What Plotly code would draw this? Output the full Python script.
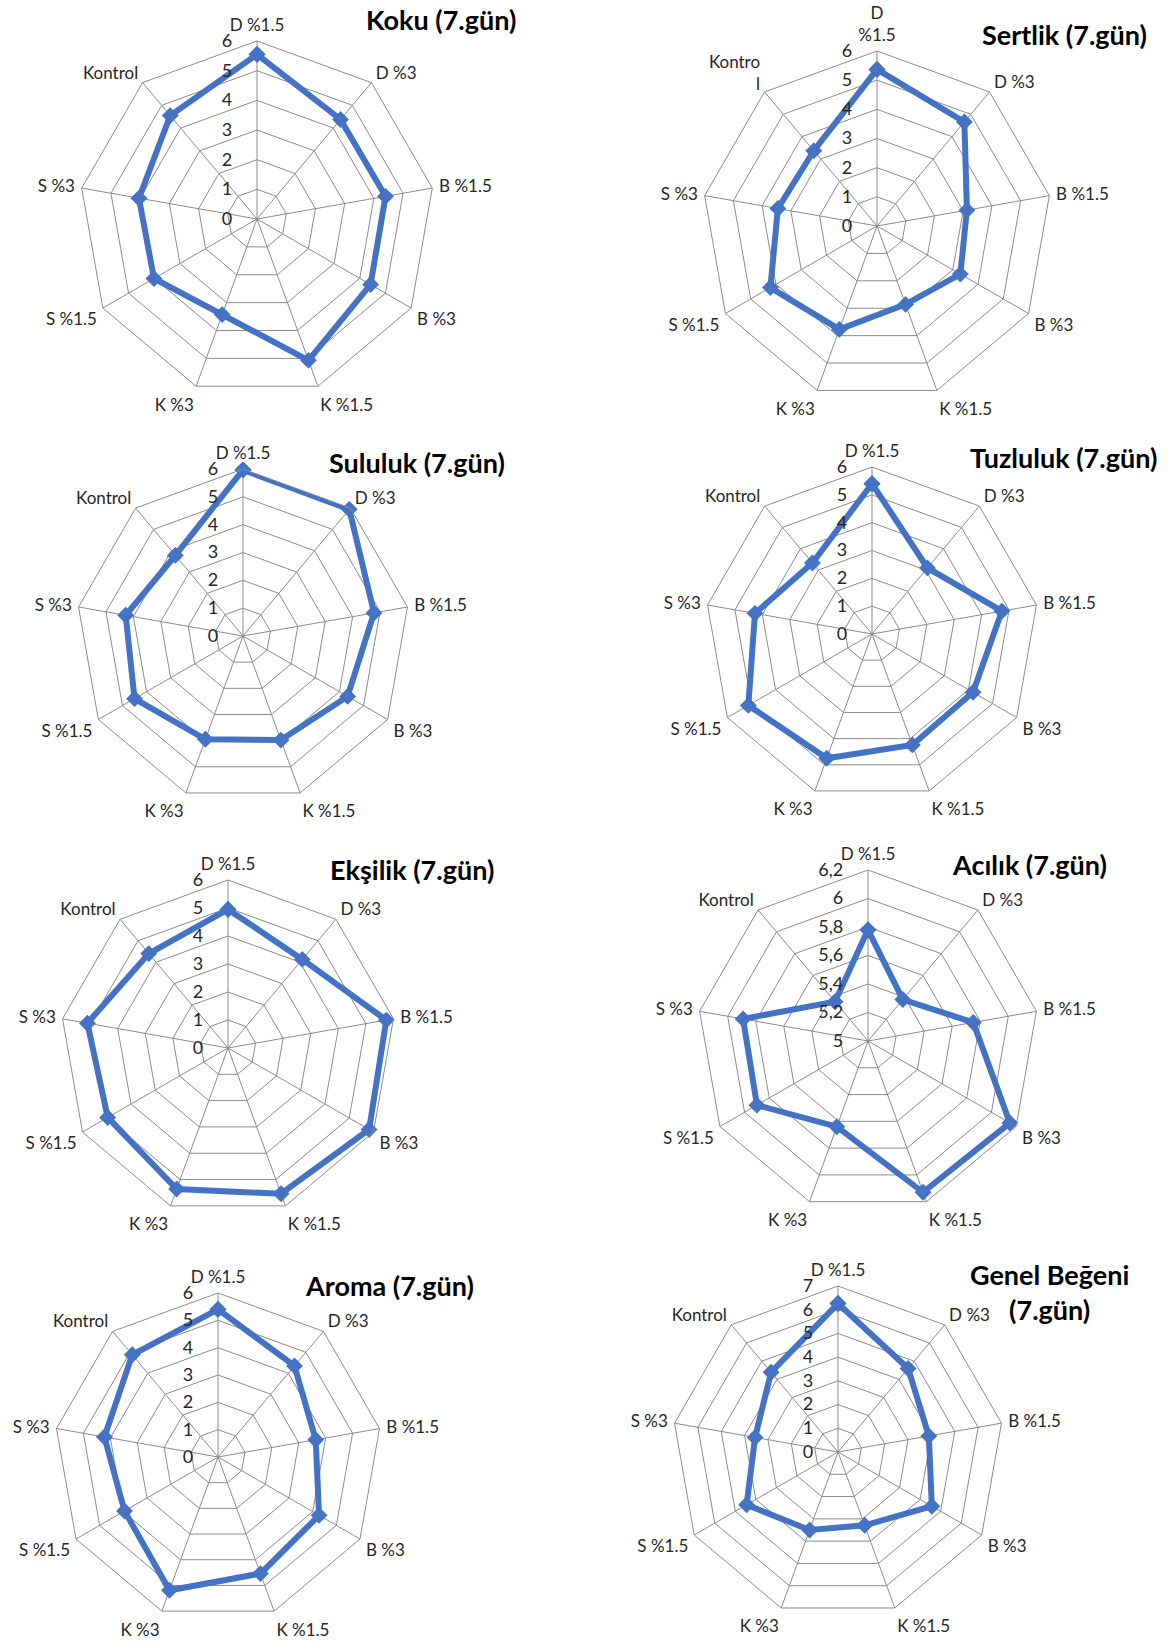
import plotly.graph_objects as go

# Sensory panel scores on day 7 for each sample
categories = ["D %1.5", "D %3", "B %1.5", "B %3", "K %1.5", "K %3", "S %1.5", "S %3", "Kontrol"]

koku = [5.55, 4.38, 4.40, 4.42, 5.07, 3.43, 4.01, 4.04, 4.55]
sertlik = [5.37, 4.66, 3.13, 3.30, 2.86, 3.77, 4.22, 3.45, 3.37]
sululuk = [5.97, 5.94, 4.78, 4.34, 3.98, 3.95, 4.50, 4.28, 3.78]
tuzluluk = [5.40, 3.10, 4.74, 4.19, 4.24, 4.75, 5.13, 4.27, 3.33]
eksilik = [4.95, 4.13, 5.74, 5.82, 5.54, 5.36, 4.96, 5.10, 4.40]
acilik = [5.78, 5.38, 5.75, 6.15, 6.13, 5.64, 5.90, 5.89, 5.36]
aroma = [5.40, 4.35, 3.63, 4.27, 4.54, 5.19, 3.95, 4.22, 4.88]
genel_begeni = [6.26, 4.60, 3.89, 4.57, 3.29, 3.50, 4.45, 3.55, 4.39]

titles = ["Koku (7.gün)", "Sertlik (7.gün)", "Sululuk (7.gün)", "Tuzluluk (7.gün)",
          "Ekşilik (7.gün)", "Acılık (7.gün)", "Aroma (7.gün)", "Genel Beğeni<br>(7.gün)"]
series = [koku, sertlik, sululuk, tuzluluk, eksilik, acilik, aroma, genel_begeni]

# radial scales
scale_0_6 = ([0, 1, 2, 3, 4, 5, 6], ["0", "1", "2", "3", "4", "5", "6"])
scale_acilik = ([5, 5.2, 5.4, 5.6, 5.8, 6, 6.2], ["5", "5,2", "5,4", "5,6", "5,8", "6", "6,2"])
scale_0_7 = ([0, 1, 2, 3, 4, 5, 6, 7], ["0", "1", "2", "3", "4", "5", "6", "7"])
scales = [scale_0_6, scale_0_6, scale_0_6, scale_0_6, scale_0_6, scale_acilik, scale_0_6, scale_0_7]

# category text per chart (the hardness chart wraps two labels)
labels_default = categories
labels_sertlik = ["D<br>%1.5", "D %3", "B %1.5", "B %3", "K %1.5", "K %3", "S %1.5", "S %3", "Kontro<br>l"]
tick_labels = [labels_default, labels_sertlik] + [labels_default] * 6

W, H = 1170, 1641
# layout of each radar: centre (px) and radius (px)
centres = [(257, 219, 178), (877, 226, 175), (243, 636, 167), (872, 634, 167),
           (228, 1048, 168), (868, 1041, 171), (218, 1457, 164), (838, 1452, 166)]
title_pos = [(441, 20), (1064, 35), (417, 462), (1063, 457),
             (412, 869), (1029, 864), (389, 1285), (1049, 1292)]

BLUE = "#4472C4"
GRID = "#8C8C8C"
FONT = "Lato"
TXT = "#262626"

fig = go.Figure()
layout = dict(width=W, height=H, margin=dict(l=0, r=0, t=0, b=0),
              paper_bgcolor="white", plot_bgcolor="white", showlegend=False,
              font=dict(family=FONT, size=16, color=TXT))
annotations = []

for i, (vals, title, (tv, tt), labs, (cx, cy, R), (tx, ty)) in enumerate(
        zip(series, titles, scales, tick_labels, centres, title_pos)):
    pname = "polar" if i == 0 else f"polar{i + 1}"
    fig.add_trace(go.Scatterpolar(
        r=vals + vals[:1], theta=categories + categories[:1],
        mode="lines+markers", subplot=pname,
        line=dict(color=BLUE, width=6),
        marker=dict(symbol="diamond", size=13, color=BLUE),
        hoverinfo="skip"))
    layout[pname] = dict(
        domain=dict(x=[(cx - R) / W, (cx + R) / W],
                    y=[1 - (cy + R) / H, 1 - (cy - R) / H]),
        gridshape="linear", bgcolor="white",
        radialaxis=dict(range=[tv[0], tv[-1]], tickvals=tv, ticktext=tt,
                        angle=90, tickangle=90, side="counterclockwise",
                        showline=False, ticks="outside", ticklen=18,
                        tickcolor="rgba(0,0,0,0)",
                        gridcolor=GRID, gridwidth=1,
                        tickfont=dict(family=FONT, size=18, color=TXT)),
        angularaxis=dict(type="category", categoryarray=categories,
                         tickvals=categories, ticktext=labs,
                         direction="clockwise", rotation=90,
                         showline=True, linecolor=GRID, linewidth=1,
                         gridcolor=GRID, gridwidth=1,
                         ticks="outside", ticklen=3, tickcolor="rgba(0,0,0,0)",
                         tickfont=dict(family=FONT, size=17, color=TXT)))
    annotations.append(dict(text=f"<b>{title}</b>", x=tx / W, y=1 - ty / H,
                            xref="paper", yref="paper", showarrow=False,
                            xanchor="center", yanchor="middle",
                            font=dict(family=FONT, size=27, color="#000000")))

layout["annotations"] = annotations
fig.update_layout(**layout)
fig.write_html("out.html")
